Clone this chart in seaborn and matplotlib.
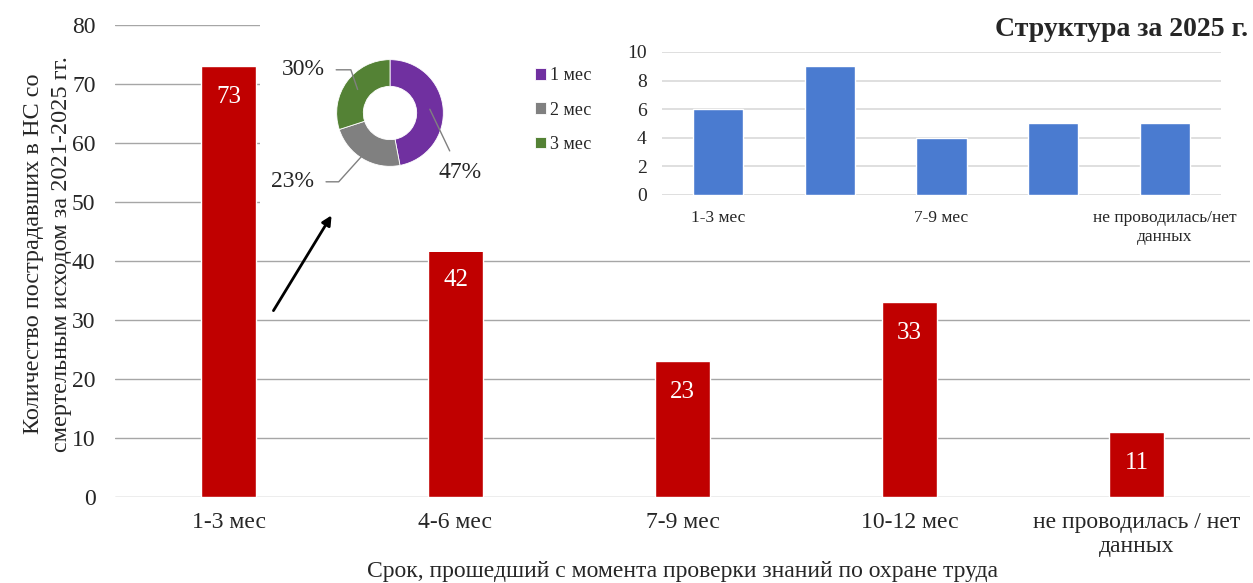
import numpy as np
import pandas as pd
import seaborn as sns
import matplotlib.pyplot as plt
from matplotlib.patches import FancyArrowPatch, Rectangle

# данные основного графика (2021-2025)
categories = ['1-3 мес', '4-6 мес', '7-9 мес', '10-12 мес', 'не проводилась / нет\nданных']
counts = [73, 42, 23, 33, 11]

# структура за 2025 г.
cats_2025 = ['1-3 мес', '4-6 мес', '7-9 мес', '10-12 мес', 'не проводилась/нет\nданных']
counts_2025 = [6, 9, 4, 5, 5]
ticklabels_2025 = ['1-3 мес', '', '7-9 мес', '', 'не проводилась/нет\nданных']

# кольцевая диаграмма
donut_labels = ['1 мес', '2 мес', '3 мес']
donut_shares = [47, 23, 30]
donut_colors = ['#7030A0', '#808080', '#548235']

sns.set_style('white')
plt.rcParams['font.family'] = ['Liberation Serif', 'DejaVu Serif']

W, H = 1253, 583
fig = plt.figure(figsize=(W / 100, H / 100), dpi=100)

def box(x0, y0, x1, y1):
    # пиксели (сверху вниз) -> координаты фигуры
    return [x0 / W, 1 - y1 / H, (x1 - x0) / W, (y1 - y0) / H]

# основной график
ax = fig.add_axes(box(115, 25, 1250, 497))
df = pd.DataFrame({'cat': categories, 'n': counts})
sns.barplot(data=df, x='cat', y='n', color='#C00000', saturation=1, width=0.245, ax=ax, zorder=2)
ax.bar_label(ax.containers[0], padding=-30, color='white', fontsize=18)
ax.set_ylim(0, 80)
ax.set_xlim(-0.5, 4.5)
ax.set_yticks(range(0, 81, 10))
ax.yaxis.grid(True, color='#A6A6A6', lw=1)
ax.set_axisbelow(True)
sns.despine(ax=ax, left=True, bottom=True)
ax.tick_params(axis='both', length=0, labelsize=17)
ax.tick_params(axis='y', pad=14)
ax.tick_params(axis='x', pad=11)
ax.set_xlabel('Срок, прошедший с момента проверки знаний по охране труда', fontsize=17)
ax.xaxis.set_label_coords(0.5, -0.135)
ax.set_ylabel('Количество пострадавших в НС со\nсмертельным исходом за 2021-2025 гг.',
              fontsize=17.5, linespacing=1.45)
ax.yaxis.set_label_coords(-0.038, 0.515)

# белая подложка для врезки
fig.patches.append(Rectangle((260 / W, 1 - 252 / H), 1 - 260 / W, 252 / H,
                             transform=fig.transFigure, facecolor='white', edgecolor='none', zorder=0.5))

# стрелка
fig.patches.append(FancyArrowPatch((272 / W, 1 - 313 / H), (333 / W, 1 - 213 / H),
                                   transform=fig.transFigure, arrowstyle='-|>',
                                   mutation_scale=14, lw=2, color='black', zorder=3))

# врезка: столбцы 2025
ax2 = fig.add_axes(box(662, 52, 1221, 195), zorder=1)
ax2.patch.set_alpha(0)
df2 = pd.DataFrame({'cat': cats_2025, 'n': counts_2025})
sns.barplot(data=df2, x='cat', y='n', color='#4A7BD0', saturation=1, width=0.45, ax=ax2, zorder=2)
ax2.set_ylim(0, 10)
ax2.set_yticks(range(0, 11, 2))
ax2.set_xticks(range(len(ticklabels_2025)))
ax2.set_xticklabels(ticklabels_2025)
ax2.yaxis.grid(True, color='#D9D9D9', lw=1.2)
ax2.set_axisbelow(True)
sns.despine(ax=ax2, left=True, bottom=True)
ax2.tick_params(axis='y', length=0, labelsize=14, pad=11)
ax2.tick_params(axis='x', length=0, labelsize=12.5, pad=11)
ax2.set_xlabel('')
ax2.set_ylabel('')
fig.text(1248 / W, 1 - 29 / H, 'Структура за 2025 г.', ha='right', va='center',
         fontsize=20, fontweight='bold', zorder=3)

# кольцо
ax3 = fig.add_axes(box(310, 33, 470, 193), zorder=2)
ax3.patch.set_alpha(0)
wedges, _ = ax3.pie(donut_shares, colors=donut_colors, startangle=90, counterclock=False,
                    radius=1, wedgeprops=dict(width=0.5, edgecolor='white', linewidth=0.6))
ax3.set_xlim(-1.5, 1.5)
ax3.set_ylim(-1.5, 1.5)
ax3.set_aspect('equal')
text_pos = [(1.31, -1.11), (-1.82, -1.29), (-1.63, 0.81)]
conn = ['arc3,rad=0', 'angle,angleA=0,angleB=48,rad=0', 'angle,angleA=0,angleB=109,rad=0']
for w, share, tp, cs in zip(wedges, donut_shares, text_pos, conn):
    ang = np.deg2rad((w.theta1 + w.theta2) / 2)
    xy = (0.75 * np.cos(ang), 0.75 * np.sin(ang))
    ax3.annotate(f'{share}%', xy=xy, xytext=tp, ha='center', va='center', fontsize=17,
                 annotation_clip=False,
                 arrowprops=dict(arrowstyle='-', color='#808080', lw=1, shrinkA=6, shrinkB=0,
                                 connectionstyle=cs))
ax3.legend(wedges, donut_labels, loc='upper left', bbox_to_anchor=(1.36, 0.83), frameon=False,
           fontsize=13, handlelength=0.6, handleheight=0.6, labelspacing=0.95, handletextpad=0.25,
           borderaxespad=0)

fig.savefig('out.png', dpi=100)
